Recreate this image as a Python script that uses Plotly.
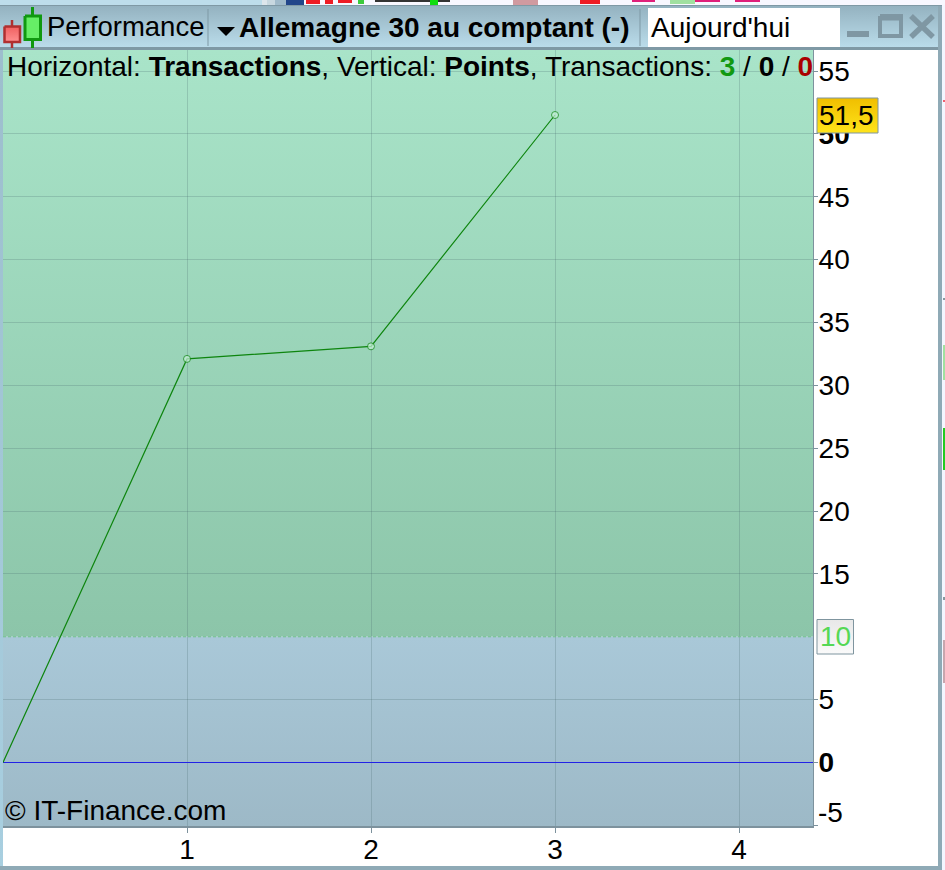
import plotly.graph_objects as go

# Valeurs
TRANSACTIONS = [0, 1, 2, 3]
POINTS = [0, 32.1, 33.1, 51.5]
Y_TICKS = [-5, 0, 5, 15, 20, 25, 30, 35, 40, 45, 50, 55]
Y_LABELS = ["", "<b>0</b>", "5", "15", "20", "25", "30", "35", "40", "45", "<b>50</b>", "55"]
X_TICKS = [1, 2, 3, 4]
SEUIL = 10

W, H = 945, 870
PLOT_L, PLOT_R, PLOT_T, PLOT_B = 3, 813, 50, 826
X_RANGE = [0, 4.402]
Y_RANGE = [-5.05, 56.67]

FONT = "Liberation Sans"
FONT_SIZE = 28
FRAME_COLOR = "#8FAAB6"
GRID_COLOR = "rgba(70,105,110,0.24)"
LINE_GREEN = "#0E850E"

fig = go.Figure()


def gradient_rect(x0, y0, x1, y1, top, bottom=None, axes="x3", border=None, border_width=1):
    # rectangle en pixels (axe y inversé), dégradé du haut vers le bas
    bottom = bottom or top
    xa, ya = (axes, "y" + axes[1:]) if axes != "x" else ("x", "y")
    fig.add_trace(go.Scatter(
        x=[x0, x1, x1, x0, x0], y=[y0, y0, y1, y1, y0],
        xaxis=xa, yaxis=ya, mode="lines", fill="toself",
        line=dict(width=border_width if border else 0, color=border or top),
        fillgradient=dict(type="vertical", colorscale=[[0, top], [1, bottom]]),
        hoverinfo="skip", showlegend=False,
    ))


def stroke(xs, ys, color, width=1):
    fig.add_trace(go.Scatter(
        x=xs, y=ys, xaxis="x3", yaxis="y3", mode="lines",
        line=dict(color=color, width=width),
        hoverinfo="skip", showlegend=False,
    ))


def label(x, y, text, size=FONT_SIZE, color="black", anchor="left"):
    fig.add_annotation(
        x=x, y=y, xref="x3", yref="y3", text=text, showarrow=False,
        xanchor=anchor, yanchor="middle", borderpad=0,
        font=dict(family=FONT, size=size, color=color),
    )


# fond de la zone de tracé (sous la grille), mêmes échelles que le graphique
for lo, hi, c_bottom, c_top in [
    (SEUIL, Y_RANGE[1], "#8CC5A9", "#A9E4C9"),
    (Y_RANGE[0], SEUIL, "#9DB9C7", "#A9C8D8"),
]:
    fig.add_trace(go.Scatter(
        x=[X_RANGE[0], X_RANGE[1], X_RANGE[1], X_RANGE[0], X_RANGE[0]],
        y=[lo, lo, hi, hi, lo], xaxis="x", yaxis="y",
        mode="lines", fill="toself", line=dict(width=0),
        fillgradient=dict(type="vertical", colorscale=[[0, c_bottom], [1, c_top]]),
        hoverinfo="skip", showlegend=False,
    ))

# courbe de performance
fig.add_trace(go.Scatter(
    x=X_RANGE, y=[0, 0], xaxis="x2", yaxis="y2", mode="lines",
    line=dict(color="#2222E6", width=1), hoverinfo="skip", showlegend=False,
))
fig.add_trace(go.Scatter(
    x=X_RANGE, y=[SEUIL, SEUIL], xaxis="x2", yaxis="y2", mode="lines",
    line=dict(color="#6FBF8C", width=1, dash="3px,2px"), hoverinfo="skip", showlegend=False,
))
fig.add_trace(go.Scatter(
    x=TRANSACTIONS, y=POINTS, xaxis="x2", yaxis="y2", mode="lines+markers",
    line=dict(color=LINE_GREEN, width=1.2),
    marker=dict(size=[0, 7, 7, 7], color="#C6F0D8", line=dict(color=LINE_GREEN, width=1)),
    hoverinfo="skip", showlegend=False,
))

# fenêtre : fond visible au-dessus et à droite
gradient_rect(0, 0, 270, 5, "#BDDDEB")
gradient_rect(270, 0, W, 5, "#F8F8FF")
gradient_rect(942, 5, W, H, "#F4F6FF")
for x0, x1, y1, color in [
    (262, 267, 5, "#DDE6EC"), (267, 275, 5, "#C8D8E0"), (275, 286, 5, "#A0BACA"), (286, 304, 5, "#22468A"),
    (306, 320, 4, "#EE1C25"), (325, 333, 4, "#EE1C25"), (338, 352, 3, "#EE1C25"), (358, 364, 4, "#3CCB3C"),
    (375, 450, 2, "#333333"), (430, 438, 5, "#10DD10"), (513, 538, 5, "#D09AA0"), (580, 600, 4, "#EE1C25"),
    (632, 655, 2, "#E0207A"), (670, 695, 4, "#A0E0A0"), (695, 720, 2, "#E0207A"), (735, 760, 2, "#E0207A"),
]:
    gradient_rect(x0, 0, x1, y1, color)
for y0, y1, color in [
    (100, 102, "#F06070"), (345, 380, "#A0E0A0"), (428, 470, "#22CC22"),
    (640, 683, "#C9A6AE"), (298, 300, "#8899A0"), (597, 600, "#8899A0"),
]:
    gradient_rect(943, y0, W, y1, color)

# barre de titre et bords
gradient_rect(0, 5, 942, 47, "#BADCEA", "#93B1BF")
gradient_rect(0, 47, 942, 50, "#7F99A5")
gradient_rect(0, 50, 3, 866, "#A8CFE0", "#9DBECD")
gradient_rect(938, 5, 942, 866, FRAME_COLOR)
gradient_rect(0, 866, 942, H, FRAME_COLOR)
stroke([0, 942], [5.5, 5.5], "#7F99A5")
stroke([208, 208], [9, 46], "#7F99A5")
stroke([640, 640], [9, 46], "#7F99A5")

# icône chandeliers
stroke([12, 12], [20, 48], "#B03030", 2.5)
gradient_rect(4.5, 26.5, 20, 42, "#FF9090", "#F06060", border="#B03030", border_width=2.5)
stroke([32.5, 32.5], [7, 48], "#109910", 3)
gradient_rect(25, 16, 40.5, 39.5, "#66EE66", "#66EE66", border="#109910", border_width=3)

# triangle du menu
fig.add_trace(go.Scatter(
    x=[217, 235, 226, 217], y=[27, 27, 36, 27], xaxis="x3", yaxis="y3",
    mode="lines", fill="toself", fillcolor="black", line=dict(width=0),
    hoverinfo="skip", showlegend=False,
))

# champ de date
gradient_rect(648, 8, 840, 47, "#FFFFFF")

# boutons de la fenêtre
BTN = "#7F97A3"
stroke([847, 869], [34, 34], BTN, 6)
stroke([880, 901, 901, 880, 880], [16, 16, 36, 36, 16], BTN, 4)
stroke([880, 901], [18.5, 18.5], BTN, 4)
stroke([911, 933], [16, 37], BTN, 5.5)
stroke([933, 911], [16, 37], BTN, 5.5)

# étiquettes de prix
gradient_rect(817, 98, 878, 133, "#FFE41A", "#F0BE00", border="#7F95A0")
gradient_rect(817, 619.5, 853.5, 654, "#FAFAFA", "#E8E8E8", border="#7F959F")

label(46, 26, "Performance", size=27.5)
label(238, 27, "<b>Allemagne 30 au comptant (-)</b>")
label(650, 27, "Aujourd'hui")
label(6, 66, (
    "Horizontal: <b>Transactions</b>, Vertical: <b>Points</b>, Transactions: "
    "<b><span style='color:#119911'>3</span></b> / <b>0</b> / "
    "<b><span style='color:#AA0000'>0</span></b>"
))
label(4, 810, "© IT-Finance.com")
label(818, 115, "51,5")
label(819, 636.5, "10", color="#55D855")
label(817, 812, "-5")

axis_hidden = dict(visible=False, showgrid=False, zeroline=False, fixedrange=True)
plot_x = [PLOT_L / W, PLOT_R / W]
plot_y = [1 - PLOT_B / H, 1 - PLOT_T / H]

fig.update_layout(
    width=W, height=H,
    margin=dict(l=0, r=0, t=0, b=0),
    paper_bgcolor="white",
    plot_bgcolor="rgba(0,0,0,0)",
    showlegend=False,
    hovermode=False,
    font=dict(family=FONT, size=FONT_SIZE, color="black"),
    xaxis=dict(axis_hidden, domain=plot_x, range=X_RANGE),
    yaxis=dict(axis_hidden, domain=plot_y, range=Y_RANGE),
    xaxis2=dict(
        domain=plot_x, range=X_RANGE, anchor="y2",
        tickvals=X_TICKS, ticks="outside", ticklen=5, tickcolor="#7D929D",
        ticklabelstandoff=-7,
        showgrid=True, gridcolor=GRID_COLOR, gridwidth=1, zeroline=False,
        showline=True, linecolor="#7D929D", linewidth=1.5, fixedrange=True,
    ),
    yaxis2=dict(
        domain=plot_y, range=Y_RANGE, anchor="x2", side="right",
        tickvals=Y_TICKS, ticktext=Y_LABELS, ticks="outside", ticklen=4, tickcolor="#7D929D",
        ticklabelstandoff=-5,
        showgrid=True, gridcolor=GRID_COLOR, gridwidth=1, zeroline=False,
        showline=True, linecolor="#7D929D", linewidth=1, fixedrange=True,
    ),
    xaxis3=dict(axis_hidden, domain=[0, 1], range=[0, W], anchor="y3"),
    yaxis3=dict(axis_hidden, domain=[0, 1], range=[H, 0], anchor="x3"),
)

fig.write_html(
    "out.html",
    config=dict(displayModeBar=False),
    post_script="document.body.style.margin='0';document.body.style.overflow='hidden';",
)
